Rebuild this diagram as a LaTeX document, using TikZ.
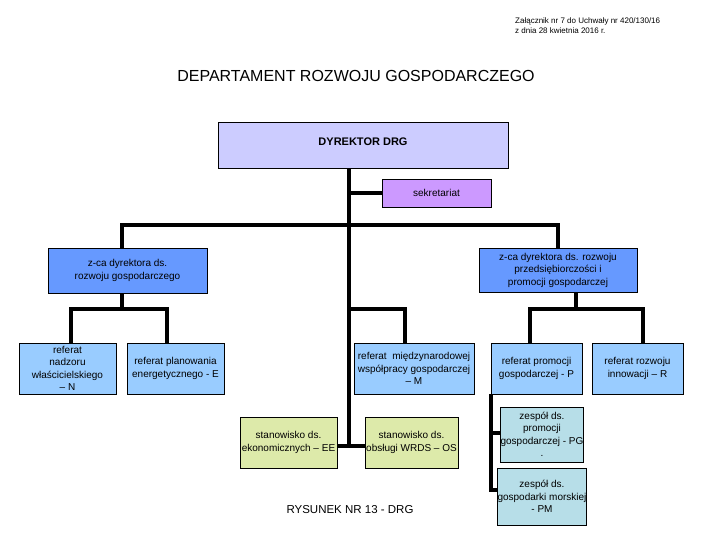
\documentclass[tikz,border=0pt]{standalone}
\usepackage{fontspec}
\setmainfont{Liberation Sans}
\usetikzlibrary{calc}
\tikzset{
	box/.style={draw=black, line width=0.8pt, inner sep=0pt, align=center,
		font=\fontsize{10}{12.5}\selectfont},
	dim/.style 2 args={minimum width=#1pt, minimum height=#2pt},
	link/.style={black, line width=3.5pt},
}

\begin{document}
\begin{tikzpicture}[
		x=1pt, y=-1pt,
		line join=miter,
		title/.style={font=\fontsize{16}{19}\selectfont},
		annex/.style={font=\fontsize{8}{10}\selectfont, align=left, anchor=north west, inner sep=0pt},
		caption/.style={font=\fontsize{11.5}{14}\selectfont},
		]
		
		% Colors (as in the chart)
		\definecolor{DyrCol}{RGB}{204,204,255}   % director
		\definecolor{SekCol}{RGB}{204,153,255}   % secretariat
		\definecolor{ZcaCol}{RGB}{102,153,255}   % deputies
		\definecolor{RefCol}{RGB}{153,204,255}   % referaty
		\definecolor{StaCol}{RGB}{221,234,170}   % stanowiska
		\definecolor{ZesCol}{RGB}{183,222,232}   % zespoly
		
		\useasboundingbox (0,0) rectangle (720,540);
		
		% --- header ---
		\node[annex] (annex) at (515,18) {Załącznik nr 7 do Uchwały nr 420/130/16\\ z dnia 28 kwietnia 2016 r.};
		\node[title] (title) at (356,76) {DEPARTAMENT ROZWOJU GOSPODARCZEGO};
		
		% --- boxes ---
		\node[box, dim={290}{46}, fill=DyrCol, font=\fontsize{11}{13}\bfseries] (dyr) at (363,145) {\raisebox{6pt}{DYREKTOR DRG}};
		\node[box, dim={109}{28}, fill=SekCol] (sekr) at (436.5,193) {sekretariat};
		
		\node[box, dim={159}{45}, fill=ZcaCol] (zcaL) at (127.5,270.5) {z-ca dyrektora ds.\\ rozwoju gospodarczego};
		\node[box, dim={158}{44}, fill=ZcaCol] (zcaR) at (558,270) {z-ca dyrektora ds. rozwoju\\ przedsiębiorczości i\\ promocji gospodarczej};
		
		\node[box, dim={97}{51}, fill=RefCol] (refN) at (67.5,368.5) {referat\\ nadzoru\\ właścicielskiego\\ – N};
		\node[box, dim={97}{51}, fill=RefCol] (refE) at (175.5,368.5) {referat planowania\\ energetycznego - E};
		\node[box, dim={120}{51}, fill=RefCol] (refM) at (414,368.5) {referat \ międzynarodowej\\ współpracy gospodarczej\\ – M};
		\node[box, dim={91}{51}, fill=RefCol] (refP) at (536.5,368.5) {referat promocji\\ gospodarczej - P};
		\node[box, dim={91}{51}, fill=RefCol] (refR) at (637.5,368.5) {referat rozwoju\\ innowacji – R};
		
		\node[box, dim={97}{51}, fill=StaCol] (staEE) at (288.5,442.5) {stanowisko ds.\\ ekonomicznych – EE};
		\node[box, dim={93}{51}, fill=StaCol] (staOS) at (411.5,442.5) {stanowisko ds.\\ obsługi WRDS – OS};
		
		\node[box, dim={80}{55}, fill=ZesCol] (zesPG) at (542,434.5) {zespół ds.\\ promocji\\ gospodarczej - PG\\ .};
		\node[box, dim={80}{57}, fill=ZesCol] (zesPM) at (542,496.5) {zespół ds.\\ gospodarki morskiej\\ - PM};
		
		\node[caption] (capt) at (350,510) {RYSUNEK NR 13 - DRG};
		
		% --- junction points ---
		\coordinate (tk) at (349,0);
		\coordinate (jOS) at (349,446);
		\coordinate (busL) at (122,225);
		\coordinate (busR) at (558,225);
		\coordinate (jL) at (122,309);
		\coordinate (jN) at (71,309);
		\coordinate (jE) at (167,309);
		\coordinate (jM) at (405,309);
		\coordinate (jR) at (576,309);
		\coordinate (jP) at (530,309);
		\coordinate (jRR) at (643,309);
		\coordinate (jPG) at (491,433);
		\coordinate (jPM) at (491,490);
		
		% --- connectors ---
		\draw[link] (dyr.south -| tk) -- (jOS);
		\draw[link] (tk |- sekr.west) -- (sekr.west);
		\draw[link] (staEE.east |- jOS) -- (staOS.west |- jOS);
		
		\draw[link] (zcaL.north -| busL) -- (busL) -- (busR) -- (zcaR.north -| busR);
		
		\draw[link] (zcaL.south -| jL) -- (jL);
		\draw[link] (refN.north -| jN) -- (jN) -- (jE) -- (refE.north -| jE);
		
		\draw[link] (tk |- jM) -- (jM) -- (refM.north -| jM);
		
		\draw[link] (zcaR.south -| jR) -- (jR);
		\draw[link] (refP.north -| jP) -- (jP) -- (jRR) -- (refR.north -| jRR);
		
		\draw[link] (refP.south -| jPG) -- (jPM) -- (jPM -| zesPM.west);
		\draw[link] (jPG) -- (jPG -| zesPG.west);
		
	\end{tikzpicture}
\end{document}
